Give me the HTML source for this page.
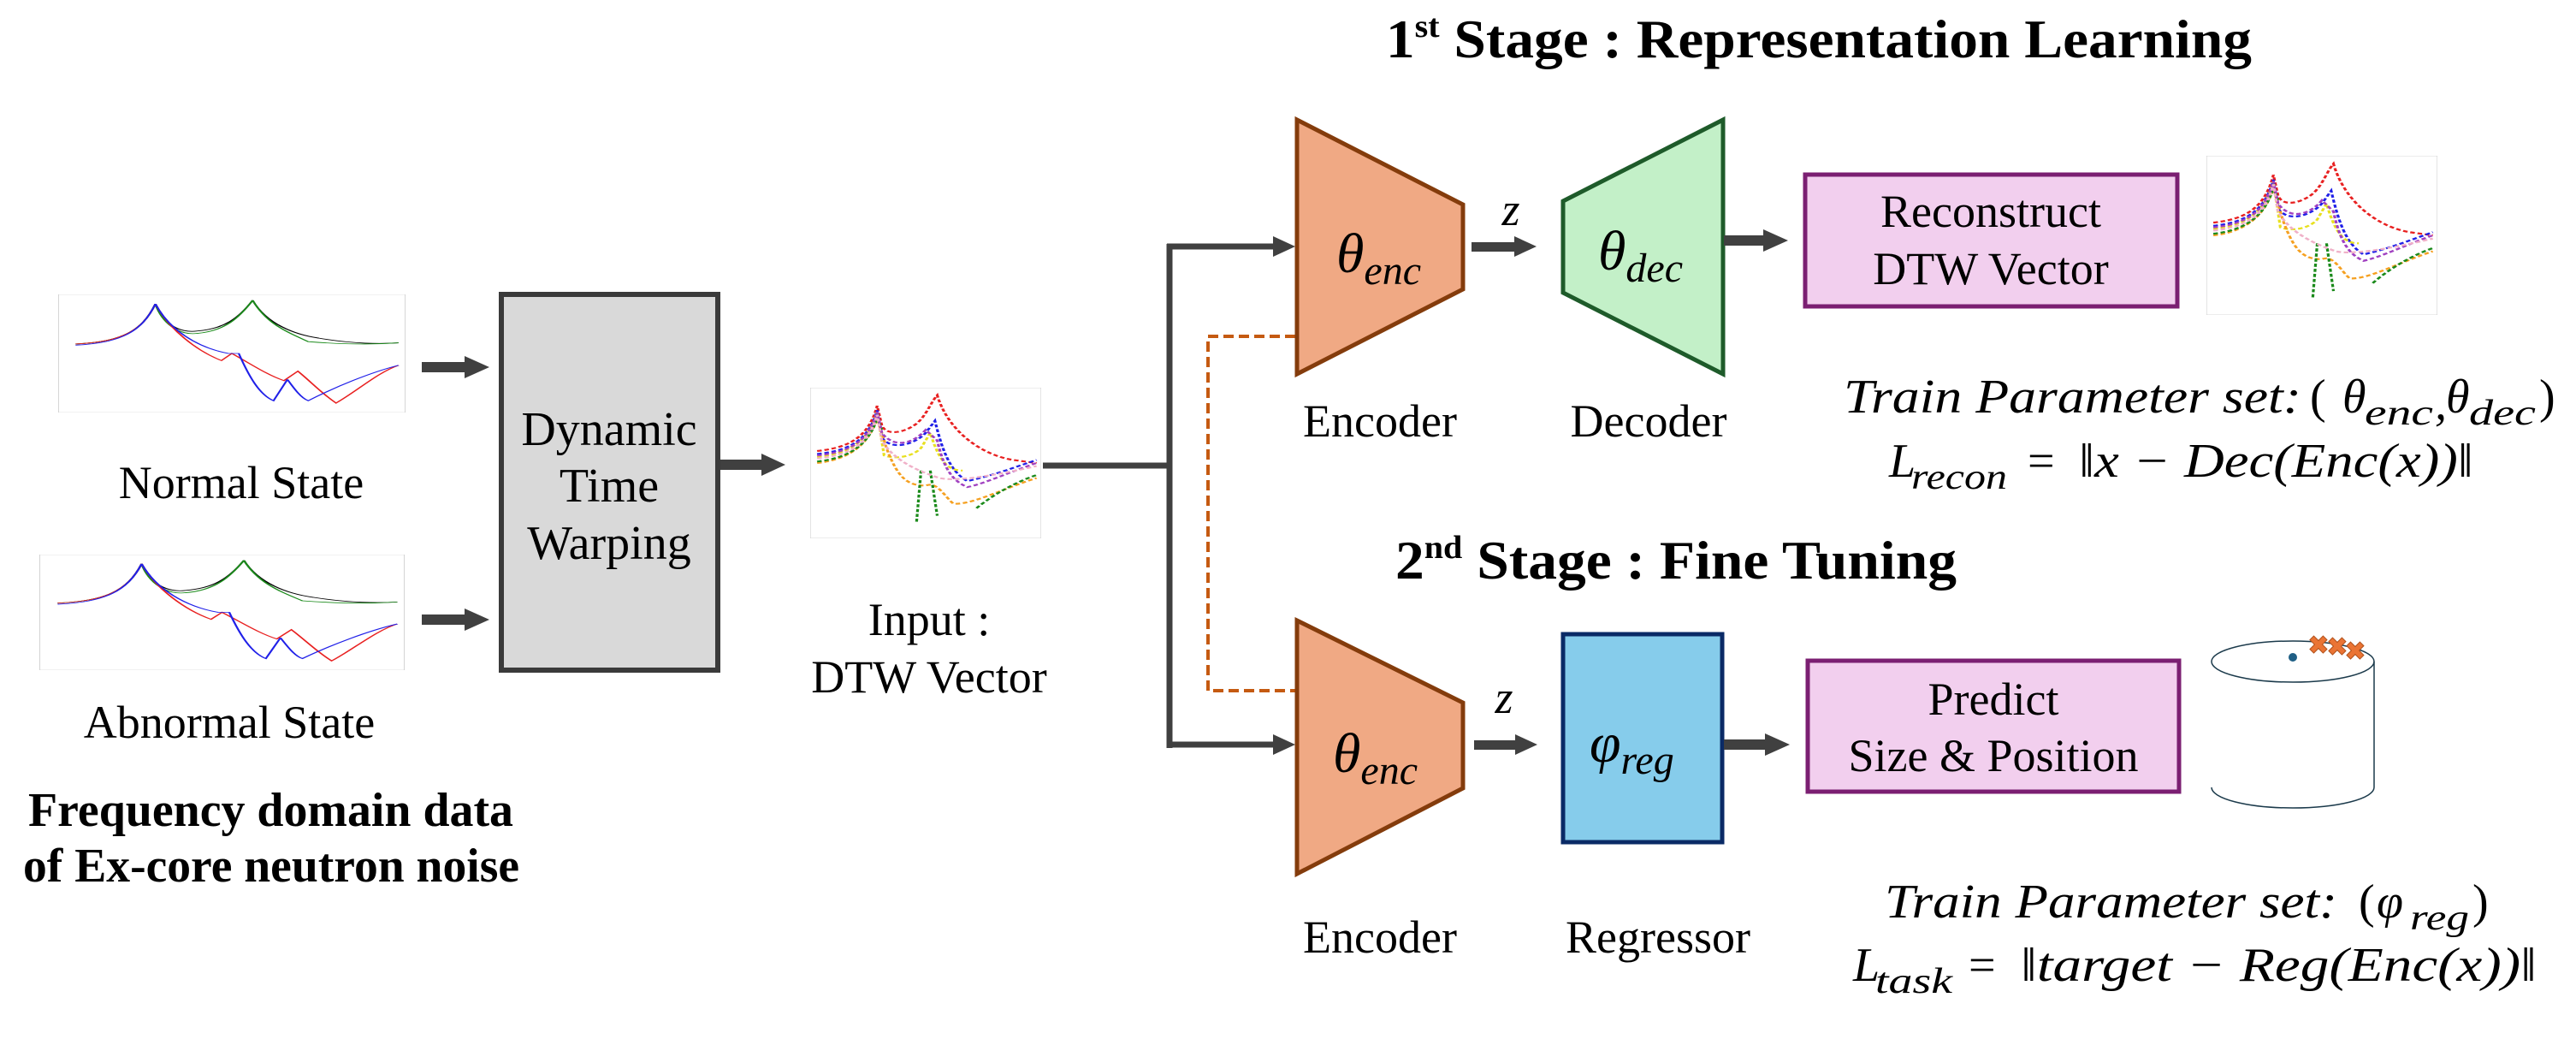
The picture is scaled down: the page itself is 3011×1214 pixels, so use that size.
<!DOCTYPE html>
<html><head><meta charset="utf-8"><style>
html,body{margin:0;padding:0;background:#fff}
svg{display:block}
</style></head><body>
<svg width="3011" height="1214" viewBox="0 0 3011 1214" xmlns="http://www.w3.org/2000/svg">
<defs>
<g id="fplot">
  <rect x="0" y="0" width="100" height="100" fill="#fff" stroke="#ccc" stroke-width="0.4"/>
  <path d="M5,42 C18,40 24,32 28,8 C30,25 35,33 40,31 C48,29 52,20 56,5 C60,25 68,34 75,37 C85,42 93,42 98,41" fill="none" stroke="#000" stroke-width="0.6"/>
  <path d="M5,42 C18,40 24,32 28,8 C30,25 35,35 40,33 C48,31 52,20 56,5 C60,25 66,32 72,40 C85,43 93,42 98,41" fill="none" stroke="#1a8a1a" stroke-width="0.6"/>
  <path d="M5,42 C18,40 24,32 28,8 C32,30 40,48 47,56 L50,50 C55,58 60,68 65,73 L69,65 C72,72 76,84 80,92 C86,82 92,66 98,60" fill="none" stroke="#e82020" stroke-width="0.6"/>
  <path d="M5,43 C18,41 24,32 28,8 C32,30 40,45 49,50 L52,50 C55,70 58,85 62,90 L66,72 C68,80 70,88 72,90 C80,78 90,66 98,60" fill="none" stroke="#2020e8" stroke-width="0.6"/>
</g>
<g id="dplot">
  <rect x="0" y="0" width="100" height="100" fill="#fff" stroke="#ccc" stroke-width="0.4"/>
  <g fill="none" stroke-width="1.2" stroke-dasharray="2 1.2">
  <path d="M3,42 C15,40 25,35 29,12 L31,25 C33,32 40,30 45,25 C50,20 52,10 55,5 C60,30 75,45 88,48 L98,50" stroke="#e82020"/>
  <path d="M3,44 C15,42 25,37 29,15 L31,33 C35,42 45,38 50,30 L54,22 C57,40 60,55 68,62 C80,58 90,52 98,48" stroke="#2020e8"/>
  <path d="M3,46 C15,44 25,38 29,16 L32,45 C38,48 45,45 48,40 L52,30 C56,50 60,55 66,55" stroke="#e8e020"/>
  <path d="M3,50 C15,48 25,40 29,20 L33,40 C38,60 42,65 50,65 C55,62 58,72 62,77 C70,78 85,66 98,60" stroke="#f5a020"/>
  <path d="M3,49 C15,47 25,40 29,20 L31,28 M48,55 L46,90 M52,55 L55,85 M72,80 C80,70 90,62 98,58" stroke="#1a8a1a"/>
  <path d="M3,45 C15,43 25,38 29,16 L31,30 C36,40 44,38 50,28 L55,35 C58,55 62,62 68,66 C75,64 88,55 98,50" stroke="#a040c0"/>
  <path d="M3,47 C15,45 25,40 29,18 L31,35 C36,48 46,55 56,60 C62,62 75,60 98,52" stroke="#f0b0c8"/>
  </g>
</g>
</defs>

<g style="font-family:'Times New Roman','Liberation Serif','DejaVu Serif',serif" fill="#000">
<svg x="68" y="344" width="406" height="138" viewBox="0 0 100 100" preserveAspectRatio="none"><use href="#fplot"/></svg>
<svg x="46" y="648" width="427" height="135" viewBox="0 0 100 100" preserveAspectRatio="none"><use href="#fplot"/></svg>
<text x="282" y="582" font-size="54" text-anchor="middle">Normal State</text>
<text x="268" y="862" font-size="54" text-anchor="middle">Abnormal State</text>
<text x="33" y="965" font-size="56" font-weight="bold" textLength="567" lengthAdjust="spacingAndGlyphs">Frequency domain data</text>
<text x="27" y="1030" font-size="56" font-weight="bold" textLength="580" lengthAdjust="spacingAndGlyphs">of Ex-core neutron noise</text>

<g fill="#404040">
<rect x="493" y="423" width="52" height="12"/><polygon points="543,416 572,429 543,442"/>
<rect x="493" y="718" width="52" height="12"/><polygon points="543,711 572,724 543,737"/>
<rect x="842" y="537" width="50" height="12"/><polygon points="890,530 918,543 890,556"/>
</g>

<rect x="586" y="344" width="253" height="439" fill="#d9d9d9" stroke="#3a3a3a" stroke-width="6"/>
<text x="712" y="520" font-size="56" text-anchor="middle">Dynamic</text>
<text x="712" y="586" font-size="56" text-anchor="middle">Time</text>
<text x="712" y="653" font-size="56" text-anchor="middle">Warping</text>

<svg x="947" y="453" width="270" height="176" viewBox="0 0 100 100" preserveAspectRatio="none"><use href="#dplot"/></svg>
<text x="1086" y="742" font-size="54" text-anchor="middle">Input :</text>
<text x="1086" y="809" font-size="54" text-anchor="middle">DTW Vector</text>

<g stroke="#404040" stroke-width="7" fill="none">
<line x1="1219" y1="544" x2="1367" y2="544"/>
<line x1="1367" y1="285" x2="1367" y2="874"/>
<line x1="1364" y1="288" x2="1490" y2="288"/>
<line x1="1364" y1="870" x2="1490" y2="870"/>
</g>
<g fill="#404040">
<polygon points="1488,276 1514,288 1488,300"/>
<polygon points="1488,858 1514,870 1488,882"/>
</g>
<path d="M1514,393 L1412,393 L1412,807 L1514,807" fill="none" stroke="#c55a11" stroke-width="4" stroke-dasharray="12 6"/>

<text x="1620" y="67" font-size="64" font-weight="bold" textLength="1012" lengthAdjust="spacingAndGlyphs">1<tspan font-size="38" dy="-24">st</tspan><tspan dy="24"> Stage : Representation Learning</tspan></text>
<text x="1631" y="676" font-size="64" font-weight="bold" textLength="656" lengthAdjust="spacingAndGlyphs">2<tspan font-size="38" dy="-24">nd</tspan><tspan dy="24"> Stage : Fine Tuning</tspan></text>

<polygon points="1516,140 1710,239 1710,338 1516,437" fill="#f0a984" stroke="#843c0c" stroke-width="5"/>
<text x="1562" y="318" font-size="66" font-style="italic">θ<tspan font-size="48" dy="14">enc</tspan></text>
<g fill="#404040"><rect x="1720" y="283" width="52" height="11"/><polygon points="1770,276 1796,288 1770,300"/></g>
<text x="1766" y="263" font-size="54" font-style="italic" text-anchor="middle">z</text>
<polygon points="1827,235 2014,140 2014,437 1827,342" fill="#c3f0c8" stroke="#1e5b2a" stroke-width="5"/>
<text x="1868" y="315" font-size="66" font-style="italic">θ<tspan font-size="48" dy="14">dec</tspan></text>
<text x="1613" y="510" font-size="54" text-anchor="middle">Encoder</text>
<text x="1927" y="510" font-size="54" text-anchor="middle">Decoder</text>
<g fill="#404040"><rect x="2015" y="275" width="48" height="12"/><polygon points="2061,268 2090,281 2061,294"/></g>
<rect x="2110" y="204" width="435" height="154" fill="#f2cfee" stroke="#7b1f72" stroke-width="5"/>
<text x="2327" y="265" font-size="54" text-anchor="middle">Reconstruct</text>
<text x="2327" y="332" font-size="54" text-anchor="middle">DTW Vector</text>
<svg x="2579" y="182" width="270" height="186" viewBox="0 0 100 100" preserveAspectRatio="none"><use href="#dplot"/></svg>

<g font-style="italic">
<text x="2155" y="482" font-size="56" textLength="535" lengthAdjust="spacingAndGlyphs">Train Parameter set:</text>
<text x="2700" y="482" font-size="56" font-style="normal">(</text>
<text x="2738" y="482" font-size="56">θ</text>
<text x="2764" y="496" font-size="42" textLength="80" lengthAdjust="spacingAndGlyphs">enc</text>
<text x="2846" y="490" font-size="56">,</text>
<text x="2859" y="482" font-size="56">θ</text>
<text x="2886" y="496" font-size="42" textLength="78" lengthAdjust="spacingAndGlyphs">dec</text>
<text x="2968" y="482" font-size="56" font-style="normal">)</text>

<text x="2208" y="557" font-size="56">L</text>
<text x="2234" y="571" font-size="42" textLength="112" lengthAdjust="spacingAndGlyphs">recon</text>
<text x="2370" y="557" font-size="56" font-style="normal">=</text>
<text x="2430" y="557" font-size="56" textLength="461" lengthAdjust="spacingAndGlyphs">‖x − Dec(Enc(x))‖</text>

<text x="2203" y="1072" font-size="56" textLength="529" lengthAdjust="spacingAndGlyphs">Train Parameter set:</text>
<text x="2757" y="1072" font-size="56" font-style="normal">(</text>
<text x="2778" y="1072" font-size="56">φ</text>
<text x="2817" y="1086" font-size="42" textLength="69" lengthAdjust="spacingAndGlyphs">reg</text>
<text x="2890" y="1072" font-size="56" font-style="normal">)</text>

<text x="2166" y="1146" font-size="56">L</text>
<text x="2192" y="1160" font-size="42" textLength="90" lengthAdjust="spacingAndGlyphs">task</text>
<text x="2301" y="1146" font-size="56" font-style="normal">=</text>
<text x="2362" y="1146" font-size="56" textLength="603" lengthAdjust="spacingAndGlyphs">‖target − Reg(Enc(x))‖</text>
</g>

<polygon points="1516,725 1710,821 1710,921 1516,1021" fill="#f0a984" stroke="#843c0c" stroke-width="5"/>
<text x="1558" y="902" font-size="66" font-style="italic">θ<tspan font-size="48" dy="14">enc</tspan></text>
<g fill="#404040"><rect x="1723" y="865" width="50" height="11"/><polygon points="1771,858 1797,870 1771,882"/></g>
<text x="1758" y="833" font-size="54" font-style="italic" text-anchor="middle">z</text>
<rect x="1827" y="741" width="186" height="243" fill="#86cceb" stroke="#0a2a66" stroke-width="5"/>
<text x="1858" y="890" font-size="66" font-style="italic">φ<tspan font-size="48" dy="14">reg</tspan></text>
<text x="1613" y="1113" font-size="54" text-anchor="middle">Encoder</text>
<text x="1938" y="1113" font-size="54" text-anchor="middle">Regressor</text>
<g fill="#404040"><rect x="2015" y="864" width="50" height="12"/><polygon points="2063,857 2092,870 2063,883"/></g>
<rect x="2113" y="772" width="434" height="153" fill="#f2cfee" stroke="#7b1f72" stroke-width="5"/>
<text x="2330" y="835" font-size="54" text-anchor="middle">Predict</text>
<text x="2330" y="901" font-size="54" text-anchor="middle">Size &amp; Position</text>

<g fill="none" stroke="#1b3a4b" stroke-width="1.5">
<ellipse cx="2680" cy="773" rx="95" ry="24"/>
<line x1="2775" y1="773" x2="2775" y2="920"/>
<path d="M2585,920 A95,24 0 0 0 2775,920"/>
</g>
<circle cx="2680" cy="768" r="5" fill="#1f5f85"/>
<g fill="#ea7434" stroke="#b0501a" stroke-width="1" style="font-family:'DejaVu Sans',sans-serif" font-size="30" text-anchor="middle">
<text x="2710" y="764">✖</text><text x="2732" y="766">✖</text><text x="2753" y="771">✖</text>
</g>
</g>
</svg>
</body></html>
